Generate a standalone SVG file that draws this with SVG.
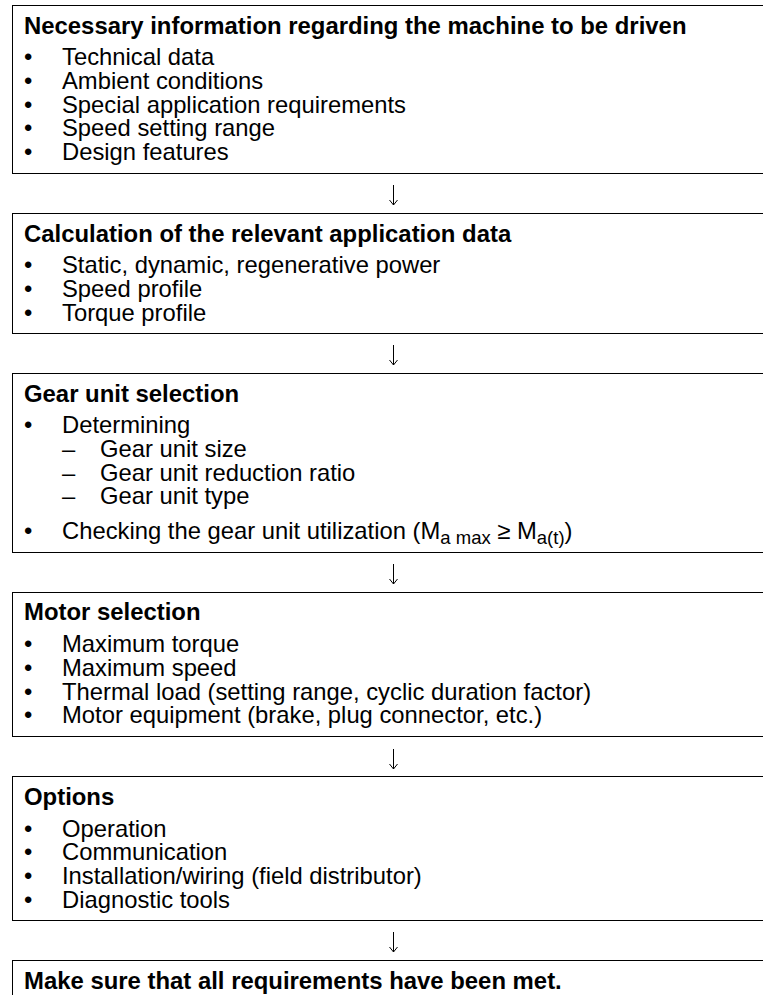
<svg xmlns="http://www.w3.org/2000/svg" width="763" height="995" viewBox="0 0 763 995">
  <style>
    .box { fill: #ffffff; stroke: #000000; stroke-width: 1; }
    .title { font-family: "Liberation Sans", Arial, sans-serif; font-size: 23.9px; font-weight: bold; fill: #000000; }
    .item { font-family: "Liberation Sans", Arial, sans-serif; font-size: 23.8px; fill: #000000; }
    .sub { font-size: 18.5px; }
    .conn { fill: none; stroke: #000000; stroke-width: 1; }
  </style>
  <rect width="763" height="995" fill="#ffffff"/>

  <!-- Process steps -->
  <g id="machine-info">
    <rect class="box" x="12.5" y="5.5" width="770" height="168"/>
    <text class="title" x="24" y="33.5">Necessary information regarding the machine to be driven</text>
    <text class="item" x="24" y="65">•</text><text class="item" x="62" y="65">Technical data</text>
    <text class="item" x="24" y="88.75">•</text><text class="item" x="62" y="88.75">Ambient conditions</text>
    <text class="item" x="24" y="112.5">•</text><text class="item" x="62" y="112.5">Special application requirements</text>
    <text class="item" x="24" y="136.25">•</text><text class="item" x="62" y="136.25">Speed setting range</text>
    <text class="item" x="24" y="160">•</text><text class="item" x="62" y="160">Design features</text>
  </g>

  <g id="application-data">
    <rect class="box" x="12.5" y="213.5" width="770" height="120"/>
    <text class="title" x="24" y="241.5">Calculation of the relevant application data</text>
    <text class="item" x="24" y="273">•</text><text class="item" x="62" y="273">Static, dynamic, regenerative power</text>
    <text class="item" x="24" y="296.75">•</text><text class="item" x="62" y="296.75">Speed profile</text>
    <text class="item" x="24" y="320.5">•</text><text class="item" x="62" y="320.5">Torque profile</text>
  </g>

  <g id="gear-unit">
    <rect class="box" x="12.5" y="373.5" width="770" height="179"/>
    <text class="title" x="24" y="401.5">Gear unit selection</text>
    <text class="item" x="24" y="433">•</text><text class="item" x="62" y="433">Determining</text>
    <text class="item" x="62" y="456.75">–</text><text class="item" x="100" y="456.75">Gear unit size</text>
    <text class="item" x="62" y="480.5">–</text><text class="item" x="100" y="480.5">Gear unit reduction ratio</text>
    <text class="item" x="62" y="504.25">–</text><text class="item" x="100" y="504.25">Gear unit type</text>
    <text class="item" x="24" y="538.5">•</text>
    <text class="item" x="62" y="538.5">Checking the gear unit utilization (M<tspan class="sub" dy="5">a max</tspan><tspan dy="-5"> ≥ M</tspan><tspan class="sub" dy="5">a(t)</tspan><tspan dy="-5">)</tspan></text>
  </g>

  <g id="motor">
    <rect class="box" x="12.5" y="592.5" width="770" height="144"/>
    <text class="title" x="24" y="620">Motor selection</text>
    <text class="item" x="24" y="652">•</text><text class="item" x="62" y="652">Maximum torque</text>
    <text class="item" x="24" y="675.75">•</text><text class="item" x="62" y="675.75">Maximum speed</text>
    <text class="item" x="24" y="699.5">•</text><text class="item" x="62" y="699.5">Thermal load (setting range, cyclic duration factor)</text>
    <text class="item" x="24" y="723.25">•</text><text class="item" x="62" y="723.25">Motor equipment (brake, plug connector, etc.)</text>
  </g>

  <g id="options">
    <rect class="box" x="12.5" y="776.5" width="770" height="144"/>
    <text class="title" x="24" y="804.5">Options</text>
    <text class="item" x="24" y="836.5">•</text><text class="item" x="62" y="836.5">Operation</text>
    <text class="item" x="24" y="860.25">•</text><text class="item" x="62" y="860.25">Communication</text>
    <text class="item" x="24" y="884">•</text><text class="item" x="62" y="884">Installation/wiring (field distributor)</text>
    <text class="item" x="24" y="907.75">•</text><text class="item" x="62" y="907.75">Diagnostic tools</text>
  </g>

  <g id="requirements-met">
    <rect class="box" x="12.5" y="960.5" width="770" height="60"/>
    <text class="title" x="24" y="988.5">Make sure that all requirements have been met.</text>
  </g>

  <!-- Downward arrows between steps -->
  <g id="connectors" class="conn">
    <path d="M393.5 185V205M389.5 200L393.5 205L397.5 200"/>
    <path d="M393.5 345V365M389.5 360L393.5 365L397.5 360"/>
    <path d="M393.5 564V584M389.5 579L393.5 584L397.5 579"/>
    <path d="M393.5 749V769M389.5 764L393.5 769L397.5 764"/>
    <path d="M393.5 932V952M389.5 947L393.5 952L397.5 947"/>
  </g>
</svg>
